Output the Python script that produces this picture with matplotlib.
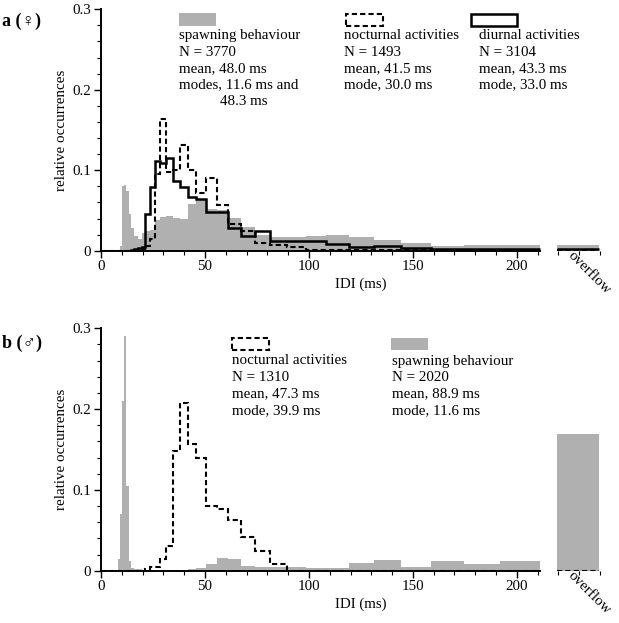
import numpy as np
import matplotlib
matplotlib.use("Agg")
import matplotlib.pyplot as plt
from matplotlib.patches import Rectangle
from matplotlib.ticker import MultipleLocator

plt.rcParams['font.family'] = ['Liberation Serif', 'DejaVu Serif']

# bin edges (ms), log spaced 10*1.1^k
edges = [0, 7.51, 8.26, 9.09, 10, 11, 12.1, 13.3, 14.6, 16.1, 17.7, 19.5, 21.4, 23.6,
         25.9, 28.5, 31.4, 34.5, 38.0, 41.8, 45.9, 50.5, 55.6, 61.2, 67.3, 74.0, 81.4,
         89.5, 98.5, 108.3, 119.2, 131.1, 144.2, 158.6, 174.5, 191.9, 211.1]
ovf_edges = [219.5, 239.5]

# a: females
fem_spawn = [0, 0, 0, 0.006, 0.080, 0.082, 0.074, 0.045, 0.028, 0.018, 0.015, 0.022,
             0.024, 0.026, 0.038, 0.042, 0.043, 0.041, 0.040, 0.058, 0.064, 0.052, 0.050,
             0.041, 0.030, 0.019, 0.017, 0.017, 0.018, 0.020, 0.017, 0.013, 0.010, 0.006,
             0.0066, 0.0075]
fem_spawn_ovf = 0.0075
fem_noct = [0, 0, 0, 0, 0, 0, 0, 0, 0, 0, 0.001, 0.002, 0.006, 0.015, 0.095, 0.164,
            0.098, 0.100, 0.131, 0.100, 0.072, 0.090, 0.057, 0.033, 0.025, 0.010, 0.007,
            0.004, 0.001, 0.001, 0.001, 0.001, 0.001, 0.001, 0.001, 0.001]
fem_noct_ovf = 0.001
fem_diur = [0, 0, 0, 0, 0, 0, 0, 0, 0.001, 0.002, 0.003, 0.005, 0.046, 0.079, 0.112,
            0.109, 0.115, 0.086, 0.079, 0.067, 0.064, 0.048, 0.048, 0.028, 0.018, 0.024,
            0.012, 0.012, 0.012, 0.008, 0.004, 0.006, 0.003, 0.002, 0.002, 0.002]
fem_diur_ovf = 0.002

# b: males
mal_noct = [0, 0, 0, 0, 0, 0, 0, 0, 0, 0, 0, 0, 0.002, 0.004, 0.005, 0.014, 0.030,
            0.148, 0.207, 0.157, 0.140, 0.080, 0.077, 0.063, 0.042, 0.025, 0.008, 0,
            0, 0, 0, 0, 0, 0, 0, 0]
mal_noct_ovf = 0.0
mal_spawn = [0, 0, 0.015, 0.070, 0.210, 0.290, 0.105, 0.012, 0.003, 0.002, 0.002, 0.001,
             0.001, 0.001, 0.001, 0.001, 0.001, 0.001, 0.001, 0.002, 0.003, 0.008, 0.016,
             0.014, 0.006, 0.005, 0.005, 0.004, 0.003, 0.003, 0.009, 0.013, 0.005, 0.012,
             0.008, 0.012]
mal_spawn_ovf = 0.169

yticks = [0, 0.1, 0.2, 0.3]
ytick_labels = ["0", "0.1", "0.2", "0.3"]
xticks = [0, 50, 100, 150, 200]

GRAY = "#b0b0b0"
W, H = 619, 623
FS = 10.8

fig = plt.figure(figsize=(W / 100, H / 100), dpi=100)


def fx(px):
    return px / W


def fy(py):
    return 1 - py / H


def frame(ax):
    ax.set_xlim(0, 240)
    ax.set_ylim(0, 0.3)
    for s in ["top", "right"]:
        ax.spines[s].set_visible(False)
    ax.spines["bottom"].set_bounds(0, edges[-1])
    ax.spines["left"].set_bounds(0, 0.3)
    ax.spines["bottom"].set_linewidth(1.4)
    ax.spines["left"].set_linewidth(1.4)
    ax.set_xticks(xticks)
    ax.set_yticks(yticks, labels=ytick_labels)
    ax.xaxis.set_minor_locator(MultipleLocator(10))
    ax.yaxis.set_minor_locator(MultipleLocator(0.02))
    ax.tick_params(which="major", direction="out", length=5, width=1, labelsize=FS, pad=2)
    ax.tick_params(which="minor", direction="out", length=3, width=0.8)
    ax.set_ylabel("relative occurrences", fontsize=FS)
    ax.yaxis.set_label_coords(-0.066, 0.5)
    ax.text(125, -0.042, "IDI (ms)", fontsize=FS, ha="center", va="center")
    ax.text(235, -0.027, "overflow", fontsize=FS, ha="center", va="center",
            rotation=-45, rotation_mode="anchor")


def legend_block(px, py, lines, indent_last=None):
    step = 16.5
    for i, t in enumerate(lines):
        x = px
        if indent_last is not None and i == len(lines) - 1:
            x = indent_last
        fig.text(fx(x), fy(py + i * step), t, fontsize=FS, ha="left", va="center")


def legend_rect(x0, y0, x1, y1, kind):
    if kind == "gray":
        r = Rectangle((fx(x0), fy(y1)), fx(x1) - fx(x0), fy(y0) - fy(y1),
                      transform=fig.transFigure, facecolor=GRAY, edgecolor="none")
    elif kind == "dash":
        r = Rectangle((fx(x0), fy(y1)), fx(x1) - fx(x0), fy(y0) - fy(y1),
                      transform=fig.transFigure, facecolor="none", edgecolor="k",
                      lw=1.5, ls=(0, (2.5, 1.5)))
    else:
        r = Rectangle((fx(x0), fy(y1)), fx(x1) - fx(x0), fy(y0) - fy(y1),
                      transform=fig.transFigure, facecolor="none", edgecolor="k", lw=1.8)
    fig.patches.append(r)


# ---- panel a ----
ax1 = fig.add_axes([101 / W, 0.5976, 499 / W, 0.3875])
ax1.stairs(fem_spawn, edges, fill=True, color=GRAY, lw=0)
ax1.stairs([fem_spawn_ovf], ovf_edges, fill=True, color=GRAY, lw=0)
ax1.stairs(fem_noct, edges, color="k", lw=1.5, ls=(0, (2.5, 1.5)), baseline=None)
ax1.stairs([fem_noct_ovf], ovf_edges, color="k", lw=1.5, ls=(0, (2.5, 1.5)), baseline=None)
ax1.stairs(fem_diur, edges, color="k", lw=1.8, baseline=None)
ax1.stairs([fem_diur_ovf], ovf_edges, color="k", lw=1.8, baseline=None)
frame(ax1)

fig.text(fx(2), fy(21), "a (♀)", fontsize=13, fontweight="bold", ha="left", va="center")
legend_rect(179, 13.3, 216, 25.7, "gray")
legend_block(179, 35.5, ["spawning behaviour", "N = 3770", "mean, 48.0 ms",
                         "modes, 11.6 ms and", "48.3 ms"], indent_last=220)
legend_rect(346, 14, 383, 25.7, "dash")
legend_block(344, 35.5, ["nocturnal activities", "N = 1493", "mean, 41.5 ms", "mode, 30.0 ms"])
legend_rect(471, 14, 517, 25.7, "solid")
legend_block(479, 35.5, ["diurnal activities", "N = 3104", "mean, 43.3 ms", "mode, 33.0 ms"])

# ---- panel b ----
ax2 = fig.add_axes([101 / W, 0.0839, 499 / W, 0.3891])
ax2.stairs(mal_spawn, edges, fill=True, color=GRAY, lw=0)
ax2.stairs([mal_spawn_ovf], ovf_edges, fill=True, color=GRAY, lw=0)
ax2.stairs(mal_noct, edges, color="k", lw=1.5, ls=(0, (2.5, 1.5)), baseline=None)
ax2.stairs([mal_noct_ovf], ovf_edges, color="k", lw=1.5, ls=(0, (2.5, 1.5)), baseline=None)
frame(ax2)

fig.text(fx(2), fy(343), "b (♂)", fontsize=13, fontweight="bold", ha="left", va="center")
legend_rect(232, 338, 269, 350, "dash")
legend_block(232, 361, ["nocturnal activities", "N = 1310", "mean, 47.3 ms", "mode, 39.9 ms"])
legend_rect(391, 338, 428, 350, "gray")
legend_block(391.5, 361, ["spawning behaviour", "N = 2020", "mean, 88.9 ms", "mode, 11.6 ms"])

fig.savefig("out.png", dpi=100)
